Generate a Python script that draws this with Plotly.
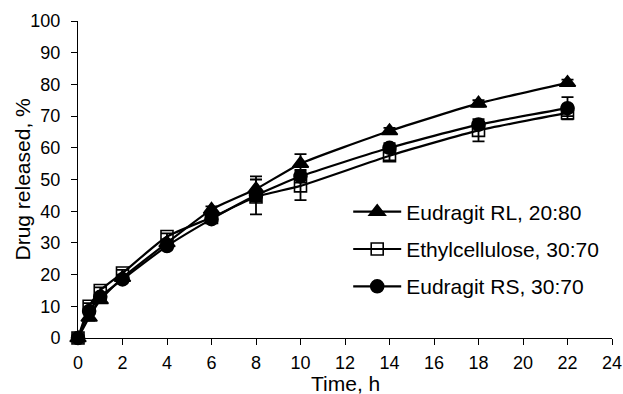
import plotly.graph_objects as go

time_h = [0, 0.5, 1, 2, 4, 6, 8, 10, 14, 18, 22]
rl_20_80 = [0, 6.5, 12, 19, 30, 40.5, 47, 55, 65.3, 74, 80.5]
rl_err = [0, 1, 1, 1, 1, 1, 4, 3, 1, 1, 1]
ec_30_70 = [0, 10, 15, 20.5, 32, 38, 44.5, 48, 57.5, 65.5, 71]
ec_err = [0, 1, 1, 1, 1, 1, 5.5, 4.5, 1.5, 3.5, 1]
rs_30_70 = [0, 8.5, 13, 18.5, 29, 37.5, 45, 51, 60, 67.3, 72.5]
rs_err = [0, 1, 1, 1, 1, 1, 1.5, 2, 1.5, 1, 3.5]

names = ["Eudragit RL, 20:80", "Ethylcellulose, 30:70", "Eudragit RS, 30:70"]
symbols = ["triangle-up", "square-open", "circle"]
sizes = [14, 12, 13]

fig = go.Figure()
for i, (name, ys, err, sym, sz) in enumerate(zip(names, [rl_20_80, ec_30_70, rs_30_70],
                                   [rl_err, ec_err, rs_err], symbols, sizes)):
    fig.add_trace(go.Scatter(
        x=time_h, y=ys, name=name, mode="lines+markers", legendgroup=f"g{i}",
        cliponaxis=False,
        line=dict(color="black", width=2.2, shape="spline", smoothing=0.5),
        marker=dict(symbol=sym, size=sz, color="black",
                    line=dict(color="black", width=1.6)),
        error_y=dict(type="data", array=err, visible=True, color="black",
                     thickness=1.8, width=6),
    ))

W, H = 623, 394
ML, MR, MT, MB = 78, 11, 21, 56
plot_w = W - ML - MR
plot_h = H - MT - MB

font = "Liberation Sans, Arial, sans-serif"
fig.update_layout(
    width=W, height=H,
    margin=dict(l=ML, r=MR, t=MT, b=MB, autoexpand=False),
    paper_bgcolor="white", plot_bgcolor="white",
    font=dict(family=font, size=18, color="black"),
    showlegend=True,
    legend=dict(x=0.506, y=0.462, xanchor="left", yanchor="top",
                bgcolor="rgba(0,0,0,0)", font=dict(size=21),
                tracegroupgap=7, itemwidth=48),
    xaxis=dict(range=[0, 24], tickvals=list(range(0, 25, 2)),
               showgrid=False, zeroline=False, showline=True, automargin=False,
               linecolor="black", linewidth=1, ticks="outside",
               ticklen=6, tickcolor="black", ticklabelstandoff=2),
    yaxis=dict(range=[0, 100], tickvals=list(range(0, 101, 10)),
               showgrid=False, zeroline=False, showline=True, automargin=False,
               linecolor="black", linewidth=1, ticks="outside",
               ticklen=6, tickcolor="black", ticklabelstandoff=7),
    annotations=[
        dict(text="Time, h", x=0.5, xref="paper",
             y=((H - MB) - 383) / plot_h, yref="paper", yanchor="middle",
             showarrow=False, font=dict(size=21)),
        dict(text="Drug released, %", textangle=-90,
             x=(22 - ML) / plot_w, xref="paper", xanchor="center",
             y=0.5, yref="paper", yanchor="middle",
             showarrow=False, font=dict(size=21)),
    ],
)
fig.write_html("out.html", config={"displayModeBar": False},
               post_script="document.body.style.margin='0';document.body.style.overflow='hidden';")
